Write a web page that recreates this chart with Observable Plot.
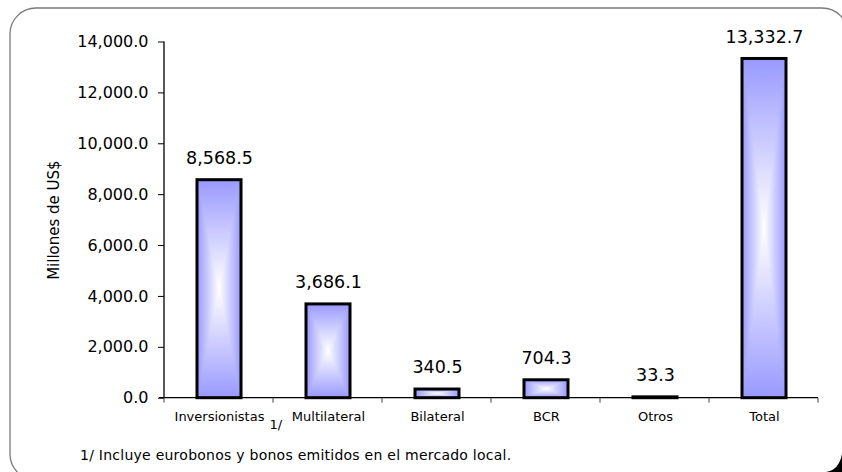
<!DOCTYPE html>
<html>
<head>
<meta charset="utf-8">
<script src="https://cdn.jsdelivr.net/npm/d3@7"></script>
<script src="https://cdn.jsdelivr.net/npm/@observablehq/plot@0.6"></script>
<style>
  html, body { margin: 0; padding: 0; background: #fff; }
  #wrap { position: relative; width: 842px; height: 472px; overflow: hidden; font-family: "DejaVu Sans", sans-serif; }
  #note { position: absolute; left: 80px; top: 447px; font-size: 14px; letter-spacing: 0.25px; color: #000; white-space: nowrap; }
</style>
</head>
<body>
<div id="wrap"><div id="note">1/ Incluye eurobonos y bonos emitidos en el mercado local.</div></div>
<script>
const categories = ["Inversionistas", "Multilateral", "Bilateral", "BCR", "Otros", "Total"];
const values = [8568.5, 3686.1, 340.5, 704.3, 33.3, 13332.7];
const yTicks = [0, 2000, 4000, 6000, 8000, 10000, 12000, 14000];
const yLabel = "Millones de US$";
const footnoteRef = "1/";

const data = categories.map((c, i) => ({cat: c, value: values[i]}));
const fmt = d3.format(",.1f");
const EDGE = "#9999ff";

// gradient defs and outer frame
function decorations(index, scales, values_, dims) {
  const g = d3.create("svg:g");
  const {width, height} = dims;
  const defs = g.append("defs");
  const mk = (id, x1, y1, x2, y2) => {
    const lg = defs.append("linearGradient").attr("id", id)
      .attr("x1", x1).attr("y1", y1).attr("x2", x2).attr("y2", y2);
    lg.append("stop").attr("offset", 0).attr("stop-color", EDGE);
    lg.append("stop").attr("offset", 1).attr("stop-color", "#ffffff");
  };
  mk("gT", 0, 0, 0, 1); mk("gB", 0, 1, 0, 0); mk("gL", 0, 0, 1, 0); mk("gR", 1, 0, 0, 0);
  const rg = defs.append("radialGradient").attr("id", "gRad");
  rg.append("stop").attr("offset", 0).attr("stop-color", "#fff");
  rg.append("stop").attr("offset", 1).attr("stop-color", EDGE);
  g.append("rect").attr("x", 10).attr("y", 8).attr("width", 838).attr("height", 472)
    .attr("rx", 26).attr("fill", "none").attr("stroke", "#7a7a7a").attr("stroke-width", 1.3);
  g.append("path").attr("d", `M${width},454 Q${width - 3},${height - 2} ${width - 16},${height} L${width},${height} Z`)
    .attr("fill", "#000");
  return g.node();
}

// rectangular "from centre" gradient: four corner-to-centre triangles per bar
function gradientBars(index, scales) {
  const g = d3.create("svg:g");
  const x = scales.x, y = scales.y;
  const bw = x.bandwidth();
  data.forEach(d => {
    const x0 = x(d.cat), x1 = x0 + bw;
    const y0 = y(d.value), y1 = y(0);
    const cx = (x0 + x1) / 2, cy = (y0 + y1) / 2;
    const tri = (pts, id) => g.append("path").attr("d", "M" + pts.map(p => p.join(",")).join("L") + "Z")
      .attr("fill", `url(#${id})`).attr("stroke", `url(#${id})`).attr("stroke-width", 0.4);
    tri([[x0, y0], [x1, y0], [cx, cy]], "gT");
    tri([[x0, y1], [x1, y1], [cx, cy]], "gB");
    tri([[x0, y0], [x0, y1], [cx, cy]], "gL");
    tri([[x1, y0], [x1, y1], [cx, cy]], "gR");
  });
  return g.node();
}

function axisLines(index, scales) {
  const g = d3.create("svg:g").attr("stroke", "#000").attr("fill", "none");
  const x = scales.x, y = scales.y;
  const [r0, r1] = x.range();
  const yb = y(0), yt = y(yTicks[yTicks.length - 1]);
  g.append("line").attr("x1", r0).attr("x2", r0).attr("y1", yt).attr("y2", yb).attr("stroke-width", 1.3);
  g.append("line").attr("x1", r0 - 5).attr("x2", r1).attr("y1", yb).attr("y2", yb).attr("stroke-width", 1.3);
  const step = (r1 - r0) / categories.length;
  for (let k = 0; k <= categories.length; k++) {
    const xx = r0 + k * step;
    g.append("line").attr("x1", xx).attr("x2", xx).attr("y1", yb).attr("y2", yb + 5).attr("stroke", "#444");
  }
  return g.node();
}

const chart = Plot.plot({
  width: 842,
  height: 472,
  marginLeft: 164,
  marginRight: 24,
  marginTop: 41.5,
  marginBottom: 74.3,
  style: {fontFamily: "DejaVu Sans, sans-serif", background: "transparent", color: "#000", overflow: "visible"},
  x: {domain: categories, paddingInner: 0.6, paddingOuter: 0.3, align: 0.5},
  y: {domain: [0, 14000]},
  marks: [
    decorations,
    Plot.barY(data, {x: "cat", y: "value", fill: "url(#gRad)"}),
    gradientBars,
    Plot.barY(data, {x: "cat", y: "value", fill: "none", stroke: "#000", strokeWidth: 3}),
    axisLines,
    Plot.axisY({ticks: yTicks, tickFormat: fmt, tickSize: 6, tickPadding: 10, fontSize: 16, label: null}),
    Plot.text([yLabel], {frameAnchor: "left", text: d => d, rotate: -90, dx: -110, fontSize: 15, textAnchor: "middle"}),
    Plot.axisX({tickSize: 0, tickPadding: 14, fontSize: 13, label: null}),
    Plot.text(data, {x: "cat", y: "value", text: d => fmt(d.value), dy: -22, fontSize: 17.5}),
    Plot.text([footnoteRef], {x: () => categories[0], y: () => 0, text: d => d, dx: 50, dy: 27, fontSize: 13, textAnchor: "start"})
  ]
});
document.getElementById("wrap").prepend(chart);
</script>
</body>
</html>
